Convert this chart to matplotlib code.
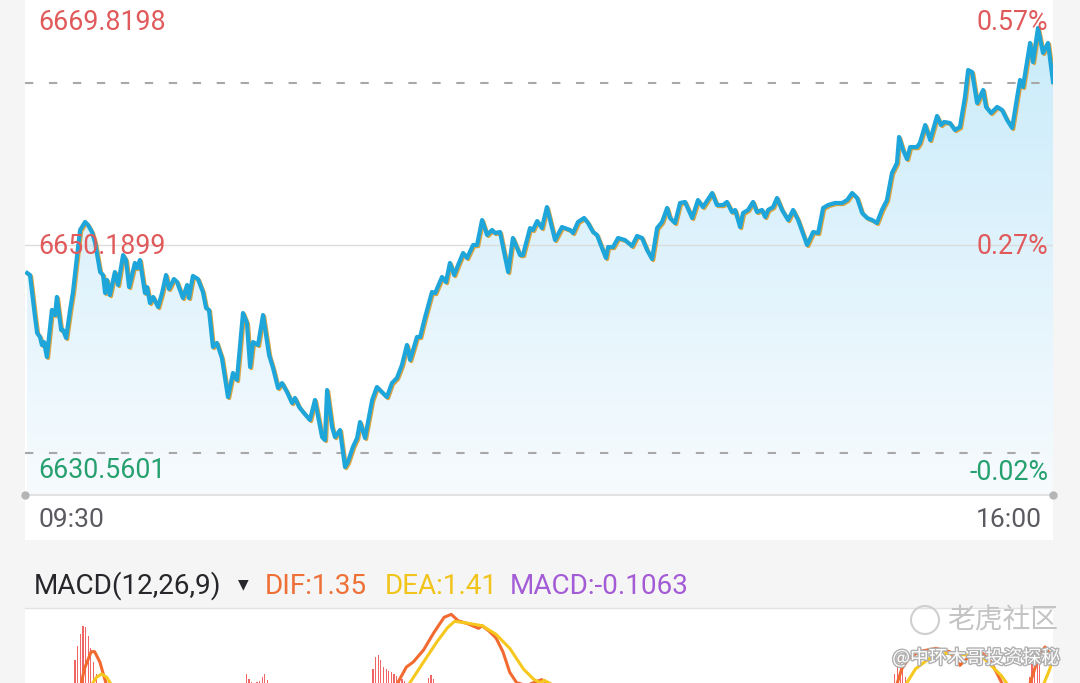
import numpy as np
import matplotlib
matplotlib.use("Agg")
import matplotlib.pyplot as plt
import matplotlib.patheffects as pe
import matplotlib.transforms as mtransforms
from matplotlib.patches import Rectangle, Ellipse
from matplotlib.colors import LinearSegmentedColormap

# intraday price, minutes after 09:30
minutes = [0.8, 1.9, 3.8, 4.6, 5.7, 6.4, 7.2, 8.3, 10.2, 11.4, 12.1, 13.7, 14.4, 15.6, 17.1, 18.2,
           19.7, 20.9, 22.8, 23.9, 25.4, 26.6, 28.5, 29.6, 30.4, 31.1, 32.2, 34.1, 35.3, 37.2, 38.3,
           39.5, 41.7, 42.5, 43.6, 45.5, 46.3, 47.4, 48.6, 50.5, 52.0, 53.5, 54.6, 56.5, 57.7, 59.9,
           61.5, 62.2, 63.7, 65.6, 67.5, 68.7, 69.8, 71.3, 72.8, 74.7, 77.0, 78.9, 80.4, 82.7, 84.2,
           85.4, 86.5, 88.4, 90.3, 92.6, 94.1, 96.0, 97.5, 99.4, 101.3, 102.4, 104.0, 105.5, 108.1,
           110.0, 112.7, 113.8, 114.6, 116.5, 117.6, 119.5, 121.4, 122.5, 124.4, 126.0, 127.1, 129.0,
           131.7, 133.5, 135.4, 137.3, 139.2, 141.1, 143.0, 144.9, 146.1, 148.7, 149.9, 151.8, 154.4,
           155.6, 158.2, 159.7, 161.2, 162.8, 164.3, 166.2, 167.7, 170.0, 171.5, 173.4, 175.3, 177.2,
           178.3, 180.2, 183.3, 185.1, 187.8, 188.9, 191.6, 192.7, 194.3, 196.1, 198.0, 201.1, 203.7,
           206.8, 207.9, 209.8, 212.1, 213.6, 215.5, 217.0, 218.9, 220.4, 221.2, 223.1, 225.0, 227.6,
           230.3, 232.2, 234.1, 236.0, 237.9, 239.8, 241.7, 243.6, 244.7, 246.6, 248.5, 250.4, 253.1,
           255.3, 257.2, 260.7, 262.5, 264.8, 266.3, 268.2, 269.4, 271.3, 272.4, 274.3, 276.2, 277.7,
           279.6, 280.8, 281.9, 283.8, 285.3, 287.2, 289.5, 291.4, 293.3, 296.7, 299.0, 300.9, 302.8,
           304.7, 307.3, 310.0, 311.9, 313.8, 315.7, 317.6, 319.5, 321.4, 323.2, 325.1, 327.0, 328.9,
           330.8, 331.6, 333.1, 334.6, 335.8, 338.4, 339.5, 341.5, 343.4, 346.0, 347.5, 348.7, 350.9,
           352.8, 354.7, 356.6, 357.8, 359.3, 361.2, 363.5, 364.6, 366.5, 368.8, 370.7, 372.6, 374.5,
           376.4, 377.5, 378.6, 381.3, 382.4, 384.3, 386.2, 388.1, 390.0]
prices = [6647.99, 6647.83, 6644.54, 6643.28, 6642.97, 6642.34, 6642.57, 6641.40, 6645.09, 6644.69,
          6646.11, 6643.52, 6643.52, 6642.89, 6645.09, 6646.50, 6649.25, 6651.37, 6652.00, 6651.76,
          6651.21, 6650.35, 6648.07, 6647.83, 6646.42, 6647.44, 6646.26, 6648.07, 6647.05, 6649.40,
          6649.01, 6646.89, 6648.78, 6648.38, 6649.01, 6646.42, 6646.89, 6645.64, 6646.11, 6645.32,
          6646.42, 6647.83, 6646.74, 6647.52, 6647.28, 6646.03, 6647.05, 6646.03, 6647.76, 6647.52,
          6646.50, 6645.24, 6645.09, 6642.18, 6642.50, 6641.32, 6638.25, 6640.14, 6639.59, 6644.85,
          6644.07, 6640.61, 6642.57, 6642.34, 6644.69, 6641.55, 6640.53, 6638.96, 6639.35, 6638.65,
          6637.78, 6638.18, 6637.47, 6637.08, 6636.45, 6638.02, 6635.11, 6634.88, 6638.80, 6635.90,
          6635.11, 6635.66, 6632.76, 6633.15, 6634.33, 6635.04, 6636.29, 6635.04, 6638.02, 6639.04,
          6638.65, 6638.25, 6639.35, 6639.75, 6640.77, 6642.34, 6641.16, 6642.97, 6642.97, 6644.54,
          6646.50, 6646.42, 6647.68, 6647.28, 6648.78, 6647.83, 6648.62, 6649.56, 6649.17, 6650.19,
          6650.19, 6652.15, 6650.98, 6651.37, 6651.13, 6651.21, 6648.07, 6650.74, 6649.40, 6649.40,
          6651.52, 6651.37, 6652.07, 6651.52, 6653.17, 6650.58, 6651.60, 6651.37, 6651.13, 6652.00,
          6652.31, 6651.92, 6651.21, 6650.98, 6649.95, 6649.17, 6650.03, 6650.03, 6650.74, 6650.58,
          6650.11, 6650.90, 6650.74, 6649.80, 6649.09, 6651.52, 6652.00, 6653.10, 6652.31, 6651.92,
          6653.49, 6653.57, 6652.31, 6653.72, 6653.17, 6654.27, 6653.33, 6653.33, 6653.57, 6652.78,
          6652.94, 6651.60, 6652.70, 6652.94, 6653.57, 6652.78, 6652.94, 6652.39, 6652.94, 6653.17,
          6653.88, 6652.94, 6652.15, 6652.94, 6652.15, 6650.19, 6651.21, 6651.13, 6653.10, 6653.33,
          6653.49, 6653.49, 6653.72, 6654.27, 6653.88, 6652.70, 6652.31, 6652.15, 6651.92, 6652.94,
          6653.72, 6655.84, 6656.63, 6658.67, 6657.65, 6656.94, 6657.88, 6657.88, 6658.20, 6659.61,
          6658.43, 6660.32, 6659.61, 6659.85, 6659.77, 6659.22, 6659.46, 6661.81, 6663.93, 6663.77,
          6661.34, 6662.36, 6661.03, 6660.55, 6661.03, 6660.79, 6660.00, 6659.38, 6661.81, 6663.15,
          6662.60, 6666.05, 6664.56, 6667.23, 6665.27, 6666.05, 6662.99]

price_top = 6669.8198
price_mid = 6650.1899
price_low = 6630.5601
ref_upper = 6662.91
ref_lower = 6633.86
pct_labels = ["0.57%", "0.27%", "-0.02%"]
time_labels = ["09:30", "16:00"]

# MACD panel
hist_t = [19, 20, 21, 22, 23, 24, 25, 26, 27,
          84, 85, 86, 87, 88, 89, 90, 91, 92,
          132, 133, 134, 135, 136, 137, 138, 139, 140, 141, 142, 143, 144,
          153, 154, 155,
          330, 331, 332, 333, 334,
          381, 382, 383, 384, 385]
hist_v = [1.31, 1.73, 2.09, 2.33, 2.30, 2.03, 1.67, 1.25, 0.89,
          0.89, 0.74, 0.65, 0.62, 0.65, 0.68, 0.80, 0.89, 0.70,
          1.04, 1.40, 1.46, 1.31, 1.10, 1.04, 0.98, 0.95, 0.89, 0.83, 0.80, 0.75, 0.68,
          0.77, 0.86, 0.74,
          0.90, 1.20, 1.40, 1.10, 0.80,
          0.80, 1.20, 1.50, 1.60, 1.30]
dif_t = [0, 18, 21.2, 22.5, 25.1, 26.4, 28.4, 29.7, 31.0, 34, 60, 100, 125, 138,
         140.8, 144.7, 147.3, 151.2, 155.1, 159.0, 161.7, 164.3, 168.2, 172.1, 173.4, 176.0,
         178.7, 181.3, 183.9, 186.5, 190.4, 192, 196, 199, 201, 205, 230, 260, 290, 315, 328,
         330.6, 332.6, 335.2, 339.1, 345.6, 350.8, 354.7, 358.7, 362.6, 366.5, 369.2, 371.1,
         375, 381.0, 383.5, 385.5, 387, 390]
dif_v = [0.0, 0.3, 0.54, 1.04, 1.56, 1.56, 1.25, 0.89, 0.54, 0.3, -0.5, -1.0, -0.3, 0.3,
         0.54, 1.10, 1.25, 1.61, 2.13, 2.59, 2.68, 2.49, 2.39, 2.26, 2.34, 2.18,
         1.97, 1.56, 0.94, 0.63, 0.54, 0.60, 0.72, 0.60, 0.50, 0.3, -0.3, -0.5, -0.6, 0.2, 0.4,
         0.54, 1.04, 1.35, 1.56, 1.66, 1.56, 1.15, 1.46, 1.56, 1.25, 0.84, 0.54,
         0.3, 0.54, 1.15, 1.56, 1.70, 1.35]
dea_t = [0, 20, 25.1, 27.1, 29.1, 31.0, 33.0, 37, 60, 100, 130, 142,
         145.3, 151.2, 156.4, 160.4, 163.0, 168.2, 173.4, 178.7, 183.9, 189.1, 193.0, 195.4,
         197, 200.7, 205, 230, 260, 290, 315, 330,
         333.9, 337.8, 343.0, 349.6, 357.4, 363.9, 370.4, 373.1, 380, 386.2, 388.8, 390]
dea_v = [0.0, 0.3, 0.54, 0.79, 0.89, 0.79, 0.54, 0.4, -0.2, -0.6, -0.2, 0.3,
         0.54, 1.25, 1.87, 2.29, 2.47, 2.41, 2.34, 2.08, 1.66, 1.04, 0.73, 0.63,
         0.70, 0.54, 0.45, 0.0, -0.3, -0.4, 0.0, 0.35,
         0.54, 1.04, 1.35, 1.51, 1.46, 1.35, 0.84, 0.54, 0.35, 0.54, 1.04, 1.41]

W, H = 1080, 683
RED = "#e05a5c"
GREEN = "#27a06f"
plt.rcParams["font.family"] = ["Roboto", "DejaVu Sans"]


def fx(x):
    return x / W


def fy(y):
    return 1 - y / H


fig = plt.figure(figsize=(W / 100, H / 100), dpi=100, facecolor="#f5f5f5")

# white panels (behind the axes)
fig.patches.append(Rectangle((fx(25), fy(540)), fx(1028), 540 / H, transform=fig.transFigure,
                             facecolor="white", edgecolor="none", zorder=-5))
fig.patches.append(Rectangle((fx(25), 0), fx(1028), fy(608), transform=fig.transFigure,
                             facecolor="white", edgecolor="none", zorder=-5))

# main price chart
ax = fig.add_axes([fx(25), fy(495), fx(1028), 500 / H])
ax.set_xlim(0, 390)
ax.set_ylim(price_low, price_top)
ax.axis("off")
ax.patch.set_alpha(0)

fill = ax.fill_between(minutes, prices, price_low, color="none")
cmap = LinearSegmentedColormap.from_list("fillgrad", ["#c6eafa", "#f7fbfe"])
grad = np.linspace(0, 1, 256).reshape(-1, 1)
img = ax.imshow(grad, cmap=cmap, aspect="auto", extent=[0, 390, price_low, price_top],
                origin="upper", zorder=1)
img.set_clip_path(fill.get_paths()[0], transform=ax.transData)

ax.axhline(price_mid, color="#dcdcdc", lw=1, zorder=2)
ax.axhline(ref_upper, color="#a8a8a8", lw=1.5, dashes=(4, 7.5), zorder=2)
ax.axhline(ref_lower, color="#a8a8a8", lw=1.5, dashes=(4, 7.5), zorder=2)

shadow = mtransforms.offset_copy(ax.transData, fig=fig, x=0.9, y=-0.9, units="points")
ax.plot(minutes, prices, color="#d9a443", lw=2.8, transform=shadow, zorder=3)
ax.plot(minutes, prices, color="#1ea5da", lw=3.0, zorder=4, solid_joinstyle="round")

ax.axhline(price_low, color="#dedede", lw=1.2, zorder=2, clip_on=False)
ax.plot([0, 390], [price_low, price_low], "o", color="#b5b5b5", ms=5, clip_on=False, zorder=5)

# price / percent labels
fs = 19.3
fig.text(fx(38), fy(22), f"{price_top:.4f}", color=RED, fontsize=fs, va="center")
fig.text(fx(38), fy(247), f"{price_mid:.4f}", color=RED, fontsize=fs, va="center")
fig.text(fx(38), fy(471), f"{price_low:.4f}", color=GREEN, fontsize=fs, va="center")
fig.text(fx(1048), fy(22), pct_labels[0], color=RED, fontsize=fs, va="center", ha="right")
fig.text(fx(1048), fy(247), pct_labels[1], color=RED, fontsize=fs, va="center", ha="right")
fig.text(fx(1048), fy(472), pct_labels[2], color=GREEN, fontsize=fs, va="center", ha="right")
fig.text(fx(38), fy(520), time_labels[0], color="#5a5a60", fontsize=19, va="center")
fig.text(fx(1042), fy(520), time_labels[1], color="#5a5a60", fontsize=19, va="center", ha="right")

# MACD header
hy = fy(586)
hfs = 20.1
fig.text(fx(34), hy, "MACD(12,26,9)", color="#26262b", fontsize=hfs, va="center")
fig.text(fx(243), fy(584), "▼", color="#26262b", fontsize=10, va="center", ha="center",
         family="DejaVu Sans")
fig.text(fx(265), hy, "DIF:1.35", color="#ee7036", fontsize=hfs, va="center")
fig.text(fx(385), hy, "DEA:1.41", color="#f0c41b", fontsize=hfs, va="center")
fig.text(fx(510), hy, "MACD:-0.1063", color="#a35bd6", fontsize=hfs, va="center")
fig.lines.append(plt.Line2D([fx(25), fx(1053)], [fy(608), fy(608)], transform=fig.transFigure,
                            color="#e2e2e2", lw=1))

# MACD chart (clipped by the bottom of the screenshot)
mx = fig.add_axes([fx(25), fy(760), fx(1028), 150 / H])
mx.set_xlim(0, 390)
mx.set_ylim(-1.69, 2.81)
mx.axis("off")
mx.patch.set_alpha(0)
mx.bar(hist_t, hist_v, width=0.45, color="#ef6464", zorder=2)
mx.plot(dif_t, dif_v, color="#f26a30", lw=2.2, zorder=3)
mx.plot(dea_t, dea_v, color="#f6c81e", lw=2.2, zorder=3)

# watermark
fig.patches.append(Ellipse((fx(925), fy(620)), 28 / W, 28 / H, transform=fig.transFigure,
                           facecolor="none", edgecolor="#cfcfcf", lw=1.5, zorder=6))
fig.text(fx(1058), fy(620), "老虎社区", color="#c4c4c4", fontsize=20, va="center", ha="right",
         family=["Noto Sans CJK SC", "DejaVu Sans"], zorder=6)
fig.text(fx(1060), fy(658), "@中环木哥投资探秘", color="white", fontsize=13.5, va="center",
         ha="right", family=["Noto Sans CJK SC", "DejaVu Sans"], zorder=6,
         path_effects=[pe.withStroke(linewidth=2, foreground="#b0b0b0")])

fig.savefig("out.png", dpi=100, facecolor=fig.get_facecolor())
